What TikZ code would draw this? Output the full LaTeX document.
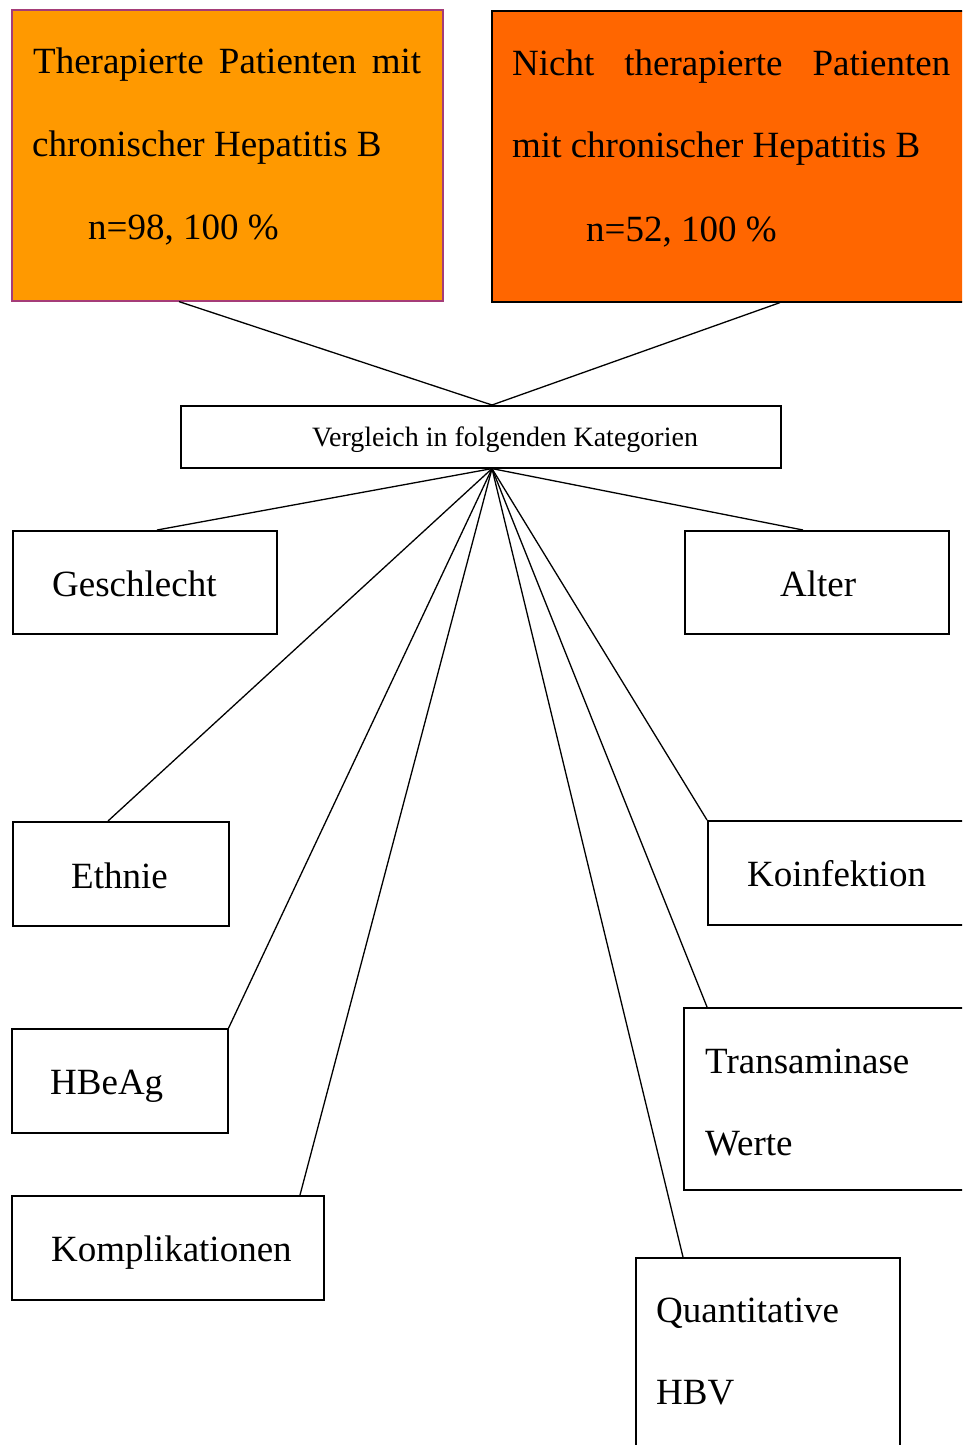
\documentclass[tikz,border=0pt]{standalone}
\usepackage{fontspec}
\setmainfont{Liberation Serif}
\usetikzlibrary{calc}
\definecolor{orA}{RGB}{255,153,0}
\definecolor{orB}{RGB}{255,102,0}
\definecolor{rimA}{RGB}{165,60,120}
\tikzset{
 box/.style={draw=black, line width=1.6pt, rectangle, inner sep=0pt, anchor=north west},
 big/.style={font=\fontsize{37}{44}\selectfont, anchor=base west, inner sep=0pt},
 small/.style={font=\fontsize{28}{32}\selectfont, inner sep=0pt, anchor=base},
 link/.style={line width=1.3pt},
}
\begin{document}
\begin{tikzpicture}[x=1pt,y=-1pt]
\useasboundingbox (0,0) rectangle (962,1445);
\clip (0,0) rectangle (962,1445);
% top boxes
\node[box, fill=orA, draw=rimA, minimum width=431pt, minimum height=291pt] (b1) at (11,9) {};
\node[box, fill=orB, minimum width=490pt, minimum height=291pt] (b2) at (491,10) {};
\node[big] (t1a) at (33,74) {\makebox[388pt][s]{Therapierte Patienten mit}};
\node[big] (t1b) at (32,156) {chronischer Hepatitis B};
\node[big] (t1c) at (88,239) {n=98, 100 \%};
\node[big] (t2a) at (512,75) {\makebox[438pt][s]{Nicht therapierte Patienten}};
\node[big] (t2b) at (512,157) {mit chronischer Hepatitis B};
\node[big] (t2c) at (586,241) {n=52, 100 \%};
% comparison box
\node[box, minimum width=600pt, minimum height=62pt] (vgl) at (180,405) {};
\node[small] (vglt) at (505,446) {Vergleich in folgenden Kategorien};
% category boxes
\node[box, minimum width=264pt, minimum height=103pt] (ges) at (12,530) {};
\node[box, minimum width=264pt, minimum height=103pt] (alt) at (684,530) {};
\node[box, minimum width=216pt, minimum height=104pt] (eth) at (12,821) {};
\node[box, minimum width=270pt, minimum height=104pt] (koi) at (707,820) {};
\node[box, minimum width=216pt, minimum height=104pt] (hbe) at (11,1028) {};
\node[box, minimum width=290pt, minimum height=182pt] (tra) at (683,1007) {};
\node[box, minimum width=312pt, minimum height=104pt] (kom) at (11,1195) {};
\node[box, minimum width=264pt, minimum height=200pt] (qua) at (635,1257) {};
% category texts
\node[big] (gest) at (52,596) {Geschlecht};
\node[big] (altt) at (780,596) {Alter};
\node[big] (etht) at (71,888) {Ethnie};
\node[big] (koit) at (747,886) {Koinfektion};
\node[big] (hbet) at (50,1094) {HBeAg};
\node[big] (trat) at (705,1073) {Transaminase};
\node[big] (traw) at (705,1155) {Werte};
\node[big] (komt) at (51,1261) {Komplikationen};
\node[big] (quat) at (656,1322) {Quantitative};
\node[big] (quah) at (656,1404) {HBV};
% connectors
\coordinate (top) at ([xshift=312pt]vgl.north west);
\coordinate (hub) at ([xshift=312pt]vgl.south west);
\draw[link] ([xshift=168pt]b1.south west) -- (top);
\draw[link] ([xshift=289pt]b2.south west) -- (top);
\draw[link] (hub) -- ([xshift=145pt]ges.north west);
\draw[link] (hub) -- ([xshift=119pt]alt.north west);
\draw[link] (hub) -- ([xshift=96pt]eth.north west);
\draw[link] (hub) -- (koi.north west);
\draw[link] (hub) -- (hbe.north east);
\draw[link] (hub) -- ([xshift=24pt]tra.north west);
\draw[link] (hub) -- ([xshift=289pt]kom.north west);
\draw[link] (hub) -- ([xshift=48pt]qua.north west);
\end{tikzpicture}
\end{document}
